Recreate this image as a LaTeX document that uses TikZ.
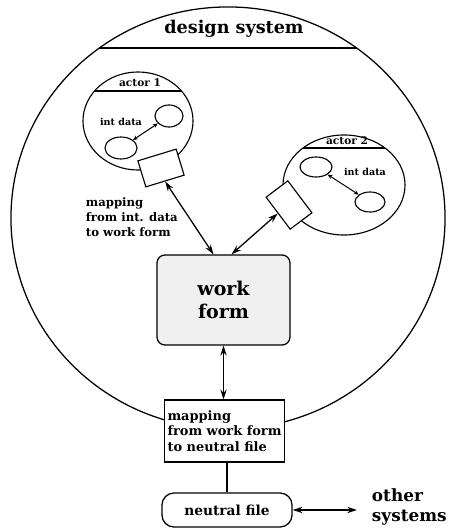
\documentclass[tikz,border=0pt]{standalone}
\usepackage{fontspec}
\setmainfont{DejaVu Serif}
\usetikzlibrary{positioning, shapes.geometric, arrows.meta}

\begin{document}
\begin{tikzpicture}[
  x=0.025cm, y=-0.025cm,
  >={Stealth[length=7pt,width=4.5pt]},
  every node/.style={font=\bfseries},
  oval/.style={draw, ellipse, inner sep=0pt, line width=0.9pt},
  datadot/.style={draw, ellipse, inner sep=0pt, line width=0.8pt},
  mapbox/.style={draw, rectangle, fill=white, line width=0.8pt,
                 minimum width=1cm, minimum height=0.68cm},
  link/.style={<->, line width=0.9pt}
]
\useasboundingbox (0,0) rectangle (448,531);

% ---- Design system ----
\node[oval, minimum width=10.85cm, minimum height=10.55cm,
  path picture={\draw[line width=0.9pt]
    ([yshift=-1.025cm]path picture bounding box.north west) --
    ([yshift=-1.025cm]path picture bounding box.north east);}]
  (sys) at (228,218) {};
\node[font=\bfseries\fontsize{12.5}{14}\selectfont] (systitle) at (234,29) {design system};

% ---- Actor 1 ----
\node[oval, line width=0.8pt, minimum width=2.75cm, minimum height=2.45cm,
  path picture={\draw[line width=0.8pt]
    ([yshift=-0.475cm]path picture bounding box.north west) --
    ([yshift=-0.475cm]path picture bounding box.north east);}]
  (act1) at (138,121) {};
\node[font=\bfseries\fontsize{7.5}{9}\selectfont] (act1title) at (140,83) {actor 1};
\node[datadot, minimum width=0.7cm, minimum height=0.55cm] (a1) at (169,116) {};
\node[datadot, minimum width=0.8cm, minimum height=0.55cm] (b1) at (121,148) {};
\draw[<->, line width=0.7pt, >={Stealth[length=3.5pt,width=3pt]}] (b1) -- (a1);
\node[font=\bfseries\fontsize{6.8}{8}\selectfont] (data1) at (121,122) {int data};

% ---- Actor 2 ----
\node[oval, line width=0.8pt, minimum width=3.05cm, minimum height=2.5cm,
  path picture={\draw[line width=0.8pt]
    ([yshift=-0.325cm]path picture bounding box.north west) --
    ([yshift=-0.325cm]path picture bounding box.north east);}]
  (act2) at (344,185) {};
\node[font=\bfseries\fontsize{7.5}{9}\selectfont] (act2title) at (347,141) {actor 2};
\node[datadot, minimum width=0.8cm, minimum height=0.5cm] (a2) at (316,167) {};
\node[datadot, minimum width=0.75cm, minimum height=0.5cm] (b2) at (370,202) {};
\draw[<->, line width=0.7pt, >={Stealth[length=3.5pt,width=3pt]}] (a2) -- (b2);
\node[font=\bfseries\fontsize{6.8}{8}\selectfont] (data2) at (365,172) {int data};

% ---- Mapping boxes of the actors ----
\node[mapbox, rotate=17] (r1) at (161,168) {};
\node[mapbox, rotate=-53] (r2) at (289,205) {};

% ---- Work form ----
\node[draw, rounded corners=0.2cm, fill=gray!12, line width=0.9pt,
  minimum width=3.325cm, minimum height=2.25cm, align=center,
  font=\bfseries\fontsize{13.5}{16}\selectfont] (wf) at (223.5,300) {work\\form};

\draw[link] (r1.south) -- ([xshift=-0.25cm]wf.north);
\draw[link] (r2.south) -- ([xshift=0.2cm]wf.north);
\node[anchor=west, align=left, font=\bfseries\fontsize{8.3}{10.5}\selectfont]
  (maplabel) at (81,217) {mapping\\from int. data\\to work form};

% ---- Mapping to neutral file ----
\node[draw, fill=white, line width=0.8pt, minimum width=2.975cm, minimum height=1.55cm,
  align=left, inner sep=2pt,
  font=\bfseries\fontsize{9.2}{11}\selectfont] (mb) at (224.5,431)
  {mapping\\from work form\\to neutral file};
\draw[link] (wf.south) -- (wf.south |- mb.north);

% ---- Neutral file ----
\node[draw, rounded corners=0.3cm, line width=0.9pt,
  minimum width=3.25cm, minimum height=0.85cm,
  font=\bfseries\fontsize{9.8}{11}\selectfont] (nf) at (227,510) {neutral file};
\draw[line width=0.9pt] (mb.south -| nf.north) -- (nf.north);

\coordinate (otherend) at (357,510);
\draw[link] (nf.east) -- (otherend);
\node[anchor=west, align=left, font=\bfseries\fontsize{12}{14}\selectfont]
  (other) at (367,507) {other\\systems};
\end{tikzpicture}
\end{document}
